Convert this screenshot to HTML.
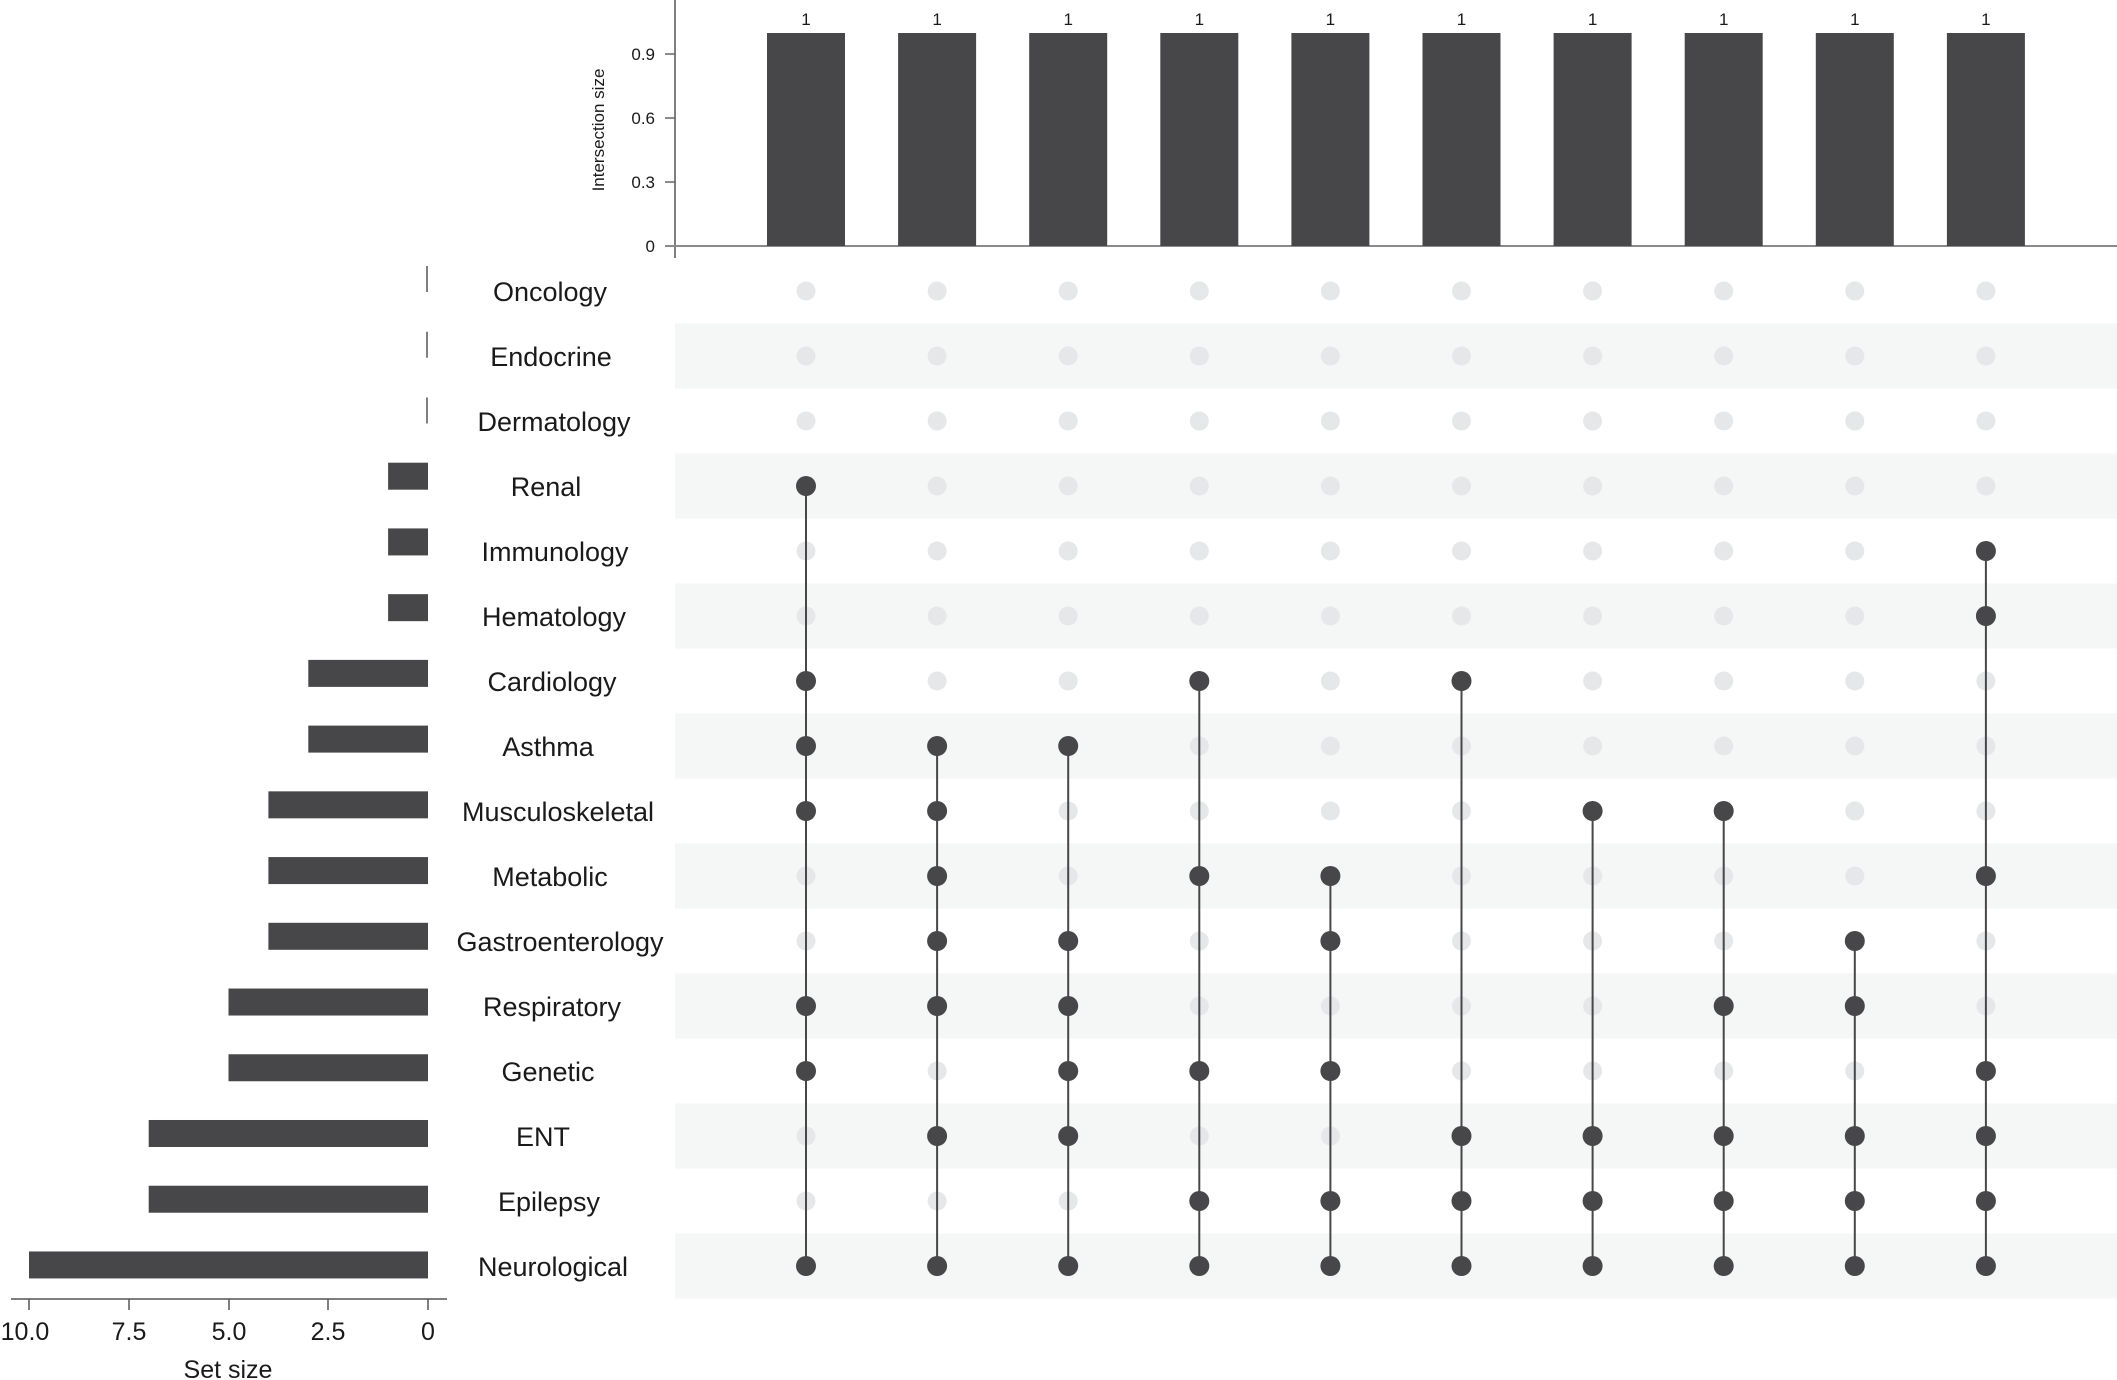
<!DOCTYPE html>
<html><head><meta charset="utf-8"><style>html,body{margin:0;padding:0;background:#fff}svg{display:block}text{font-family:"Liberation Sans",sans-serif;fill:#1a1a1a}</style></head>
<body>
<svg id="s" width="2117" height="1380" viewBox="0 0 2117 1380" xmlns="http://www.w3.org/2000/svg">
<g id="stripes"></g>
<!-- top axis -->
<line x1="675" y1="0" x2="675" y2="258" stroke="#555" stroke-width="1.5"/>
<line x1="665" y1="246" x2="2117" y2="246" stroke="#8a8a8a" stroke-width="2"/>
<g stroke="#666" stroke-width="1.5">
<line x1="665" y1="54" x2="675" y2="54"/><line x1="665" y1="118" x2="675" y2="118"/><line x1="665" y1="182" x2="675" y2="182"/>
</g>
<g font-size="17" text-anchor="end">
<text x="655" y="60">0.9</text><text x="655" y="124">0.6</text><text x="655" y="188">0.3</text><text x="655" y="252">0</text>
</g>
<text transform="translate(604,130) rotate(-90)" font-size="17" text-anchor="middle">Intersection size</text>
<g id="bars"></g>
<!-- row labels -->
<g font-size="27" text-anchor="middle">
<text x="550" y="301">Oncology</text>
<text x="551" y="366">Endocrine</text>
<text x="554" y="431">Dermatology</text>
<text x="546" y="496">Renal</text>
<text x="555" y="561">Immunology</text>
<text x="554" y="626">Hematology</text>
<text x="552" y="691">Cardiology</text>
<text x="548" y="756">Asthma</text>
<text x="558" y="821">Musculoskeletal</text>
<text x="550" y="886">Metabolic</text>
<text x="560" y="951">Gastroenterology</text>
<text x="552" y="1016">Respiratory</text>
<text x="548" y="1081">Genetic</text>
<text x="543" y="1146">ENT</text>
<text x="549" y="1211">Epilepsy</text>
<text x="553" y="1276">Neurological</text>
</g>
<g id="sets"></g>
<!-- set size axis -->
<line x1="11" y1="1299" x2="447" y2="1299" stroke="#555" stroke-width="1.5"/>
<g stroke="#555" stroke-width="1.5">
<line x1="29" y1="1299" x2="29" y2="1310"/><line x1="129" y1="1299" x2="129" y2="1310"/><line x1="229" y1="1299" x2="229" y2="1310"/><line x1="328" y1="1299" x2="328" y2="1310"/><line x1="428" y1="1299" x2="428" y2="1310"/>
</g>
<g font-size="25" text-anchor="middle">
<text x="25" y="1340">10.0</text><text x="129" y="1340">7.5</text><text x="229" y="1340">5.0</text><text x="328" y="1340">2.5</text><text x="428" y="1340">0</text>
<text x="228" y="1378">Set size</text>
</g>
<g id="mat"></g>
</svg>
<script>
var NS="http://www.w3.org/2000/svg";
function el(p,t,a){var e=document.createElementNS(NS,t);for(var k in a)e.setAttribute(k,a[k]);document.getElementById(p).appendChild(e);return e;}
var rc=function(i){return 291+65*i;};
for(var i=0;i<16;i++){if(i%2==1)el("stripes","rect",{x:675,y:rc(i)-32.5,width:1442,height:65,fill:"#f5f6f6"});}
var cx=function(j){return 806+131.1*j;};
for(var j=0;j<10;j++){
 el("bars","rect",{x:cx(j)-39,y:33,width:78,height:213,fill:"#474749"});
 var t=el("bars","text",{x:cx(j),y:25,"font-size":17,"text-anchor":"middle"});t.textContent="1";
}
var sizes=[0,0,0,1,1,1,3,3,4,4,4,5,5,7,7,10];
for(var i=0;i<16;i++){var yc=279+65.73*i;
 if(sizes[i]==0)el("sets","line",{x1:427,y1:yc-13,x2:427,y2:yc+13,stroke:"#555","stroke-width":1.5});
 else el("sets","rect",{x:428-39.9*sizes[i],y:yc-13.5,width:39.9*sizes[i],height:27,fill:"#474749"});
}
var cols=[[3,6,7,8,11,12,15],[7,8,9,10,11,13,15],[7,10,11,12,13,15],[6,9,12,14,15],[9,10,12,14,15],[6,13,14,15],[8,13,14,15],[8,11,13,14,15],[10,11,13,14,15],[4,5,9,12,13,14,15]];
for(var j=0;j<10;j++){
 for(var i=0;i<16;i++)el("mat","circle",{cx:cx(j),cy:rc(i),r:9.5,fill:"#e6e7e9"});
 var c=cols[j];
 el("mat","line",{x1:cx(j),y1:rc(c[0]),x2:cx(j),y2:rc(c[c.length-1]),stroke:"#474749","stroke-width":2});
 for(var k=0;k<c.length;k++)el("mat","circle",{cx:cx(j),cy:rc(c[k]),r:10,fill:"#474749"});
}
</script>
</body></html>
